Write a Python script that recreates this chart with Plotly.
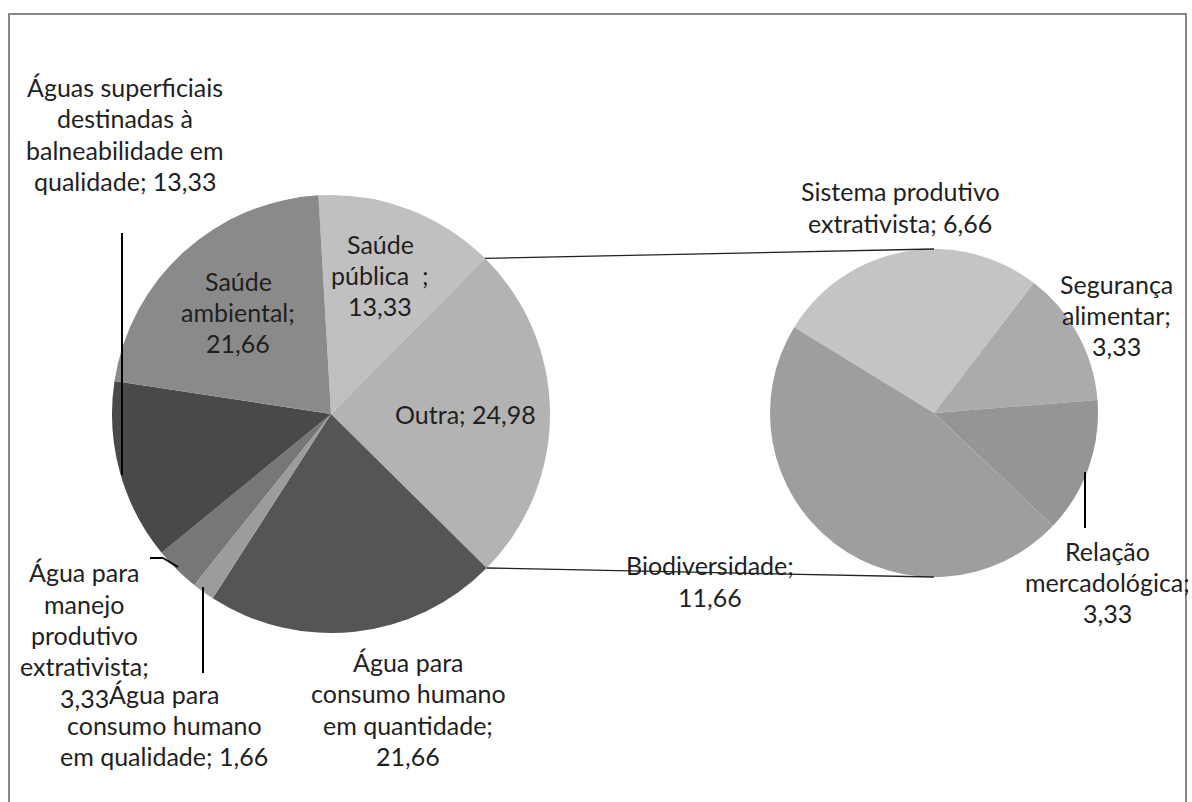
import math
import plotly.graph_objects as go

# ---------------- data ----------------
main_labels = [
    "Saúde pública",
    "Outra",
    "Água para consumo humano em quantidade",
    "Água para consumo humano em qualidade",
    "Água para manejo produtivo extrativista",
    "Águas superficiais destinadas à balneabilidade em qualidade",
    "Saúde ambiental",
]
main_values = [13.33, 24.98, 21.66, 1.66, 3.33, 13.33, 21.66]
main_colors = ["#c0c0c0", "#b3b3b3", "#555555", "#9c9c9c", "#777777", "#494949", "#8a8a8a"]

sub_labels = [
    "Sistema produtivo extrativista",
    "Segurança alimentar",
    "Relação mercadológica",
    "Biodiversidade",
]
sub_values = [6.66, 3.33, 3.33, 11.66]
sub_colors = ["#c4c4c4", "#ababab", "#959595", "#9e9e9e"]

# label templates (line breaks as in the original), {v} = value with comma decimal
main_label_tpl = [
    "Saúde<br>pública  ;<br>{v}",
    "Outra; {v}",
    "Água para<br>consumo humano<br>em quantidade;<br>{v}",
    "Água para<br>consumo humano<br>em qualidade; {v}",
    "Água para<br>manejo<br>produtivo<br>extrativista;<br>{v}",
    "Águas superficiais<br>destinadas à<br>balneabilidade em<br>qualidade; {v}",
    "Saúde<br>ambiental;<br>{v}",
]
sub_label_tpl = [
    "Sistema produtivo<br>extrativista; {v}",
    "Segurança<br>alimentar;<br>{v}",
    "Relação<br>mercadológica;<br>{v}",
    "Biodiversidade;<br>{v}",
]

# ---------------- layout (pixels) ----------------
W, H = 1192, 802
LINE = 31.3
main_c, main_r, main_rot = (331, 414), 219, -3.3
sub_c, sub_r, sub_rot = (934, 413), 164, -58.5

main_label_pos = [(380, 275), (465, 414), (408, 709), (164, 725), (84, 635), (125, 134), (238, 312)]
sub_label_pos = [(900, 207), (1116, 315), (1107, 582), (710, 581)]

leaders = [
    [(122, 233), (122, 475)],
    [(150, 558), (163, 558), (178, 567)],
    [(203, 587), (203, 673)],
    [(1085, 472), (1085, 528)],
]


def fmt(v):
    return f"{v:.2f}".replace(".", ",")


def px(x):
    return x / W


def py(y):
    return 1 - y / H


def domain(c, r):
    return dict(x=[px(c[0] - r), px(c[0] + r)], y=[py(c[1] + r), py(c[1] - r)])


fig = go.Figure()
fig.add_trace(go.Pie(
    labels=main_labels, values=main_values, sort=False, direction="clockwise",
    rotation=main_rot, marker=dict(colors=main_colors, line=dict(width=0)),
    textinfo="none", hoverinfo="label+value", domain=domain(main_c, main_r), showlegend=False,
))
fig.add_trace(go.Pie(
    labels=sub_labels, values=sub_values, sort=False, direction="clockwise",
    rotation=sub_rot, marker=dict(colors=sub_colors, line=dict(width=0)),
    textinfo="none", hoverinfo="label+value", domain=domain(sub_c, sub_r), showlegend=False,
))

font = dict(family="Lato, 'Open Sans', sans-serif", size=25, color="#1f1f1f")
annotations = []


def add_label(text, x, y):
    lines = text.split("<br>")
    n = len(lines)
    for i, ln in enumerate(lines):
        yy = y + (i - (n - 1) / 2) * LINE
        annotations.append(dict(text=ln, x=px(x), y=py(yy), xref="paper", yref="paper",
                                showarrow=False, font=font, align="center",
                                xanchor="center", yanchor="middle"))


for tpl, v, (x, y) in zip(main_label_tpl, main_values, main_label_pos):
    add_label(tpl.format(v=fmt(v)), x, y)
for tpl, v, (x, y) in zip(sub_label_tpl, sub_values, sub_label_pos):
    add_label(tpl.format(v=fmt(v)), x, y)

# connector lines from the "Outra" slice edges to top/bottom of secondary pie
total = sum(main_values)
a0 = math.radians(main_rot + 360 * main_values[0] / total)
a1 = math.radians(main_rot + 360 * (main_values[0] + main_values[1]) / total)
p0 = (main_c[0] + main_r * math.sin(a0), main_c[1] - main_r * math.cos(a0))
p1 = (main_c[0] + main_r * math.sin(a1), main_c[1] - main_r * math.cos(a1))
shapes = [
    dict(type="line", xref="paper", yref="paper", x0=px(p0[0]), y0=py(p0[1]),
         x1=px(sub_c[0]), y1=py(sub_c[1] - sub_r), line=dict(color="#222222", width=1.3)),
    dict(type="line", xref="paper", yref="paper", x0=px(p1[0]), y0=py(p1[1]),
         x1=px(sub_c[0]), y1=py(sub_c[1] + sub_r), line=dict(color="#222222", width=1.3)),
    dict(type="rect", xref="paper", yref="paper", x0=px(9), y0=py(14), x1=px(1186), y1=py(805),
         line=dict(color="#878787", width=2)),
]
for pts in leaders:
    for (xa, ya), (xb, yb) in zip(pts[:-1], pts[1:]):
        shapes.append(dict(type="line", xref="paper", yref="paper", x0=px(xa), y0=py(ya),
                           x1=px(xb), y1=py(yb), line=dict(color="#000000", width=2)))

fig.update_layout(
    width=W, height=H, margin=dict(l=0, r=0, t=0, b=0),
    paper_bgcolor="white", plot_bgcolor="white",
    annotations=annotations, shapes=shapes,
)
fig.write_html("out.html", config={"displayModeBar": False},
               post_script="document.body.style.margin='0';")
